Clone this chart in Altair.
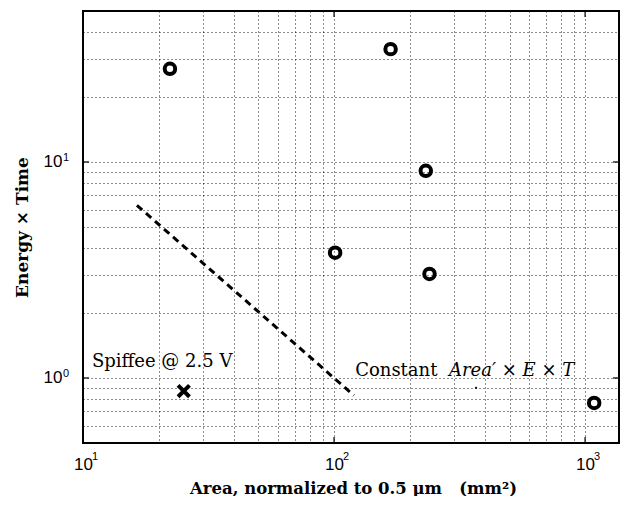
import altair as alt
import pandas as pd

# ---- data ----
area_pts = [22.2, 168, 232, 101, 240, 1087]
et_pts = [27.0, 33.3, 9.1, 3.8, 3.03, 0.766]

spiffee_area = [25.2]
spiffee_et = [0.87]

const_area = [16.4, 120]
const_et = [6.3, 0.83]

dot_area = [368]
dot_et = [0.9]

x_grid = [10, 20, 30, 40, 50, 60, 70, 80, 90,
          100, 200, 300, 400, 500, 600, 700, 800, 900, 1000]
y_grid = [0.5, 0.6, 0.7, 0.8, 0.9, 1, 2, 3, 4, 5, 6, 7, 8, 9, 10, 20, 30, 40, 50]
x_major = [10, 100, 1000]
x_exp = ["1", "2", "3"]
y_major = [1, 10]
y_exp = ["0", "1"]

W, H = 536, 432

xscale = alt.Scale(type="log", domain=[10, 1365], nice=False)
yscale = alt.Scale(type="log", domain=[0.5, 50], nice=False)

grid_style = dict(grid=True, gridColor="#000000", gridDash=[1, 3], gridWidth=1,
                  gridOpacity=0.9, ticks=False, domain=False,
                  labelFont="Liberation Sans", labelFontSize=17, labelColor="#000",
                  labelOverlap=False, labelFlush=False,
                  titleFont="DejaVu Serif", titleFontWeight="bold",
                  titleColor="#000")

xaxis = alt.Axis(values=x_grid,
                 labelExpr="(datum.value == 10 || datum.value == 100 || datum.value == 1000) ? '10' : ''",
                 labelBaseline="top", labelPadding=13, labelAlign="center",
                 title="Area, normalized to 0.5 μm\u00a0\u00a0\u00a0(mm²)", titleFontSize=16.5,
                 titleBaseline="middle", titleY=45, titleX=W / 2 + 2,
                 **grid_style)
yaxis = alt.Axis(values=y_grid,
                 labelExpr="(datum.value == 1 || datum.value == 10) ? '10' : ''",
                 labelBaseline="middle", labelPadding=21,
                 title="Energy × Time", titleAngle=-90, titleFontSize=17,
                 titleBaseline="middle", titleAlign="center", titleX=-61, titleY=H / 2,
                 **grid_style)

def X(field="x"):
    return alt.X(f"{field}:Q", scale=xscale, axis=xaxis)

def Y(field="y"):
    return alt.Y(f"{field}:Q", scale=yscale, axis=yaxis)

pts = pd.DataFrame({"x": area_pts, "y": et_pts})
sp = pd.DataFrame({"x": spiffee_area, "y": spiffee_et})
cl = pd.DataFrame({"x": const_area, "y": const_et})
dt = pd.DataFrame({"x": dot_area, "y": dot_et})

circles = alt.Chart(pts).mark_point(shape="circle", size=110, strokeWidth=4,
                                    color="#000", filled=False, opacity=1).encode(x=X(), y=Y())
cross = alt.Chart(sp).mark_point(shape="M -1 -1 L 1 1 M -1 1 L 1 -1", size=130, strokeWidth=4,
                                 color="#000", filled=False, opacity=1).encode(x=X(), y=Y())
line = alt.Chart(cl).mark_line(color="#000", strokeWidth=3, strokeDash=[7, 5]).encode(x=X(), y=Y())
dot = alt.Chart(dt).mark_point(shape="circle", size=5, filled=True, color="#000",
                               opacity=1).encode(x=X(), y=Y())

lab_sp = alt.Chart(pd.DataFrame({"x": [10.85], "y": [1.125], "t": ["Spiffee @ 2.5 V"]})).mark_text(
    font="DejaVu Serif", fontSize=18, align="left", baseline="alphabetic", color="#000"
).encode(x=X(), y=Y(), text="t:N")
lab_c1 = alt.Chart(pd.DataFrame({"x": [121.4], "y": [1.02], "t": ["Constant"]})).mark_text(
    font="DejaVu Serif", fontSize=18, align="left", baseline="alphabetic", color="#000"
).encode(x=X(), y=Y(), text="t:N")
lab_c2 = alt.Chart(pd.DataFrame({"x": [287], "y": [1.02], "t": ["Area′ × E × T"]})).mark_text(
    font="DejaVu Serif", fontSize=18, fontStyle="italic", align="left", baseline="alphabetic", color="#000"
).encode(x=X(), y=Y(), text="t:N")

# superscript exponents of the tick labels
xe = pd.DataFrame({"x": x_major, "t": x_exp})
ye = pd.DataFrame({"y": y_major, "t": y_exp})
xsup = alt.Chart(xe).mark_text(font="Liberation Sans", fontSize=11, align="left", baseline="top",
                               color="#000", dx=9).encode(x=X(), y=alt.value(H + 8), text="t:N")
ysup = alt.Chart(ye).mark_text(font="Liberation Sans", fontSize=11, align="left", baseline="top",
                               color="#000", dy=-10).encode(y=Y(), x=alt.value(-20), text="t:N")

xt = pd.DataFrame({"x": [100, 1000]})
yt = pd.DataFrame({"y": y_major})
tick_top = alt.Chart(xt).mark_rule(color="#000", strokeWidth=1.2).encode(
    x=X(), y=alt.value(0), y2=alt.value(6))
tick_bot = alt.Chart(xt).mark_rule(color="#000", strokeWidth=1.2).encode(
    x=X(), y=alt.value(H), y2=alt.value(H - 6))
tick_left = alt.Chart(yt).mark_rule(color="#000", strokeWidth=1.2).encode(
    y=Y(), x=alt.value(0), x2=alt.value(6))
tick_right = alt.Chart(yt).mark_rule(color="#000", strokeWidth=1.2).encode(
    y=Y(), x=alt.value(W), x2=alt.value(W - 6))

chart = alt.layer(
    line, circles, cross, dot, lab_sp, lab_c1, lab_c2, xsup, ysup,
    tick_top, tick_bot, tick_left, tick_right
).properties(
    width=W, height=H,
    autosize=alt.AutoSizeParams(type="none"),
    padding={"left": 75, "top": 3, "right": 1, "bottom": 53},
    background="white",
).configure_view(stroke="#000", strokeWidth=2)

chart.save("out.html", embed_options={"renderer": "svg", "actions": False})
